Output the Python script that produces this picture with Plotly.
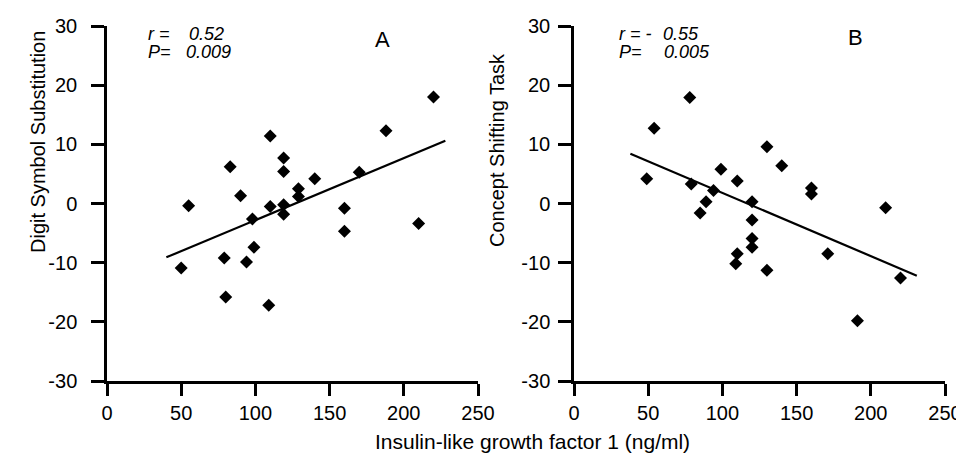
import plotly.graph_objects as go

# ---- data ----
igf_a = [220, 188, 110, 83, 119, 119, 140, 170, 90, 129, 129, 55, 110, 119, 119,
         98, 160, 160, 210, 99, 79, 94, 50, 80, 109]
dss_a = [18.0, 12.3, 11.4, 6.2, 7.7, 5.4, 4.2, 5.3, 1.3, 2.5, 1.2, -0.4, -0.5, -0.2,
         -1.8, -2.6, -0.8, -4.7, -3.4, -7.4, -9.2, -9.9, -10.9, -15.8, -17.2]
fit_a_x = [40, 228]
fit_a_y = [-9.1, 10.6]

igf_b = [78, 54, 130, 140, 99, 49, 110, 79, 94, 160, 160, 89, 120, 210, 85, 120,
         120, 120, 110, 109, 130, 171, 220, 191]
cst_b = [17.9, 12.7, 9.6, 6.4, 5.8, 4.2, 3.8, 3.3, 2.2, 2.6, 1.6, 0.3, 0.3, -0.7,
         -1.6, -2.8, -5.9, -7.4, -8.5, -10.2, -11.3, -8.5, -12.6, -19.8]
fit_b_x = [38, 231]
fit_b_y = [8.4, -12.2]

x_ticks = [0, 50, 100, 150, 200, 250]
y_ticks = [-30, -20, -10, 0, 10, 20, 30]
y_tick_text = ["-30", "-20", "-10", "0", "10", "20", "30"]

# page body has an 8px margin: the figure is drawn from (8, 8)
OFF = 8
W, H = 964 - OFF, 463 - OFF
FONT = "Liberation Sans, Arial, sans-serif"

def px(x):
    return (x - OFF) / W

def py(y):
    return 1 - (y - OFF) / H

fig = go.Figure()
marker = dict(symbol="diamond", size=10, color="black", line=dict(width=0))
fig.add_trace(go.Scatter(x=igf_a, y=dss_a, mode="markers", marker=marker,
                         xaxis="x", yaxis="y", showlegend=False))
fig.add_trace(go.Scatter(x=fit_a_x, y=fit_a_y, mode="lines",
                         line=dict(color="black", width=2.2),
                         xaxis="x", yaxis="y", showlegend=False))
fig.add_trace(go.Scatter(x=igf_b, y=cst_b, mode="markers", marker=marker,
                         xaxis="x2", yaxis="y2", showlegend=False))
fig.add_trace(go.Scatter(x=fit_b_x, y=fit_b_y, mode="lines",
                         line=dict(color="black", width=2.2),
                         xaxis="x2", yaxis="y2", showlegend=False))

tickfont = dict(family=FONT, size=20, color="black")
xcommon = dict(range=[0, 250], tickvals=x_ticks, showline=True, linecolor="black",
               linewidth=2.5, ticks="outside", ticklen=12, tickwidth=2.5,
               tickcolor="black", showgrid=False, zeroline=False,
               tickfont=tickfont, automargin=False)
ycommon = dict(range=[-30, 30], tickvals=y_ticks, ticktext=y_tick_text,
               showline=True, linecolor="black",
               linewidth=2.5, ticks="outside", ticklen=13, tickwidth=2.5,
               tickcolor="black", showgrid=False, zeroline=False,
               tickfont=tickfont, domain=[py(381), py(26)], automargin=False)

fig.update_layout(
    template="none",
    width=W, height=H,
    margin=dict(l=0, r=0, t=0, b=0, pad=0),
    plot_bgcolor="white", paper_bgcolor="white",
    xaxis=dict(xcommon, domain=[px(107), px(478)], anchor="y"),
    yaxis=dict(ycommon, anchor="x", ticklabelstandoff=10),
    xaxis2=dict(xcommon, domain=[px(574), px(945)], anchor="y2"),
    yaxis2=dict(ycommon, anchor="x2", ticklabelstandoff=4),
)

ann = []
def text(x, y, s, size=18, xanchor="left", italic=False, angle=0):
    ann.append(dict(x=px(x), y=py(y), xref="paper", yref="paper",
                    text=f"<i>{s}</i>" if italic else s, showarrow=False,
                    xanchor=xanchor, yanchor="middle", textangle=angle,
                    font=dict(family=FONT, size=size, color="black")))

# panel A stats
text(146, 34, "r =", italic=True)
text(187, 34, "0.52", italic=True)
text(146, 52, "P=", italic=True)
text(184, 52, "0.009", italic=True)
text(382, 40, "A", size=22, xanchor="center")
# panel B stats
text(617, 34, "r = -", italic=True)
text(661, 34, "0.55", italic=True)
text(617, 52, "P=", italic=True)
text(662, 52, "0.005", italic=True)
text(855, 38, "B", size=22, xanchor="center")
# axis titles
text(38, 142, "Digit Symbol Substitution", size=20, xanchor="center", angle=-90)
text(497, 150, "Concept Shifting Task", size=20, xanchor="center", angle=-90)
text(532, 441, "Insulin-like growth factor 1 (ng/ml)", size=21, xanchor="center")

fig.update_layout(annotations=ann)
fig.write_html("out.html")
